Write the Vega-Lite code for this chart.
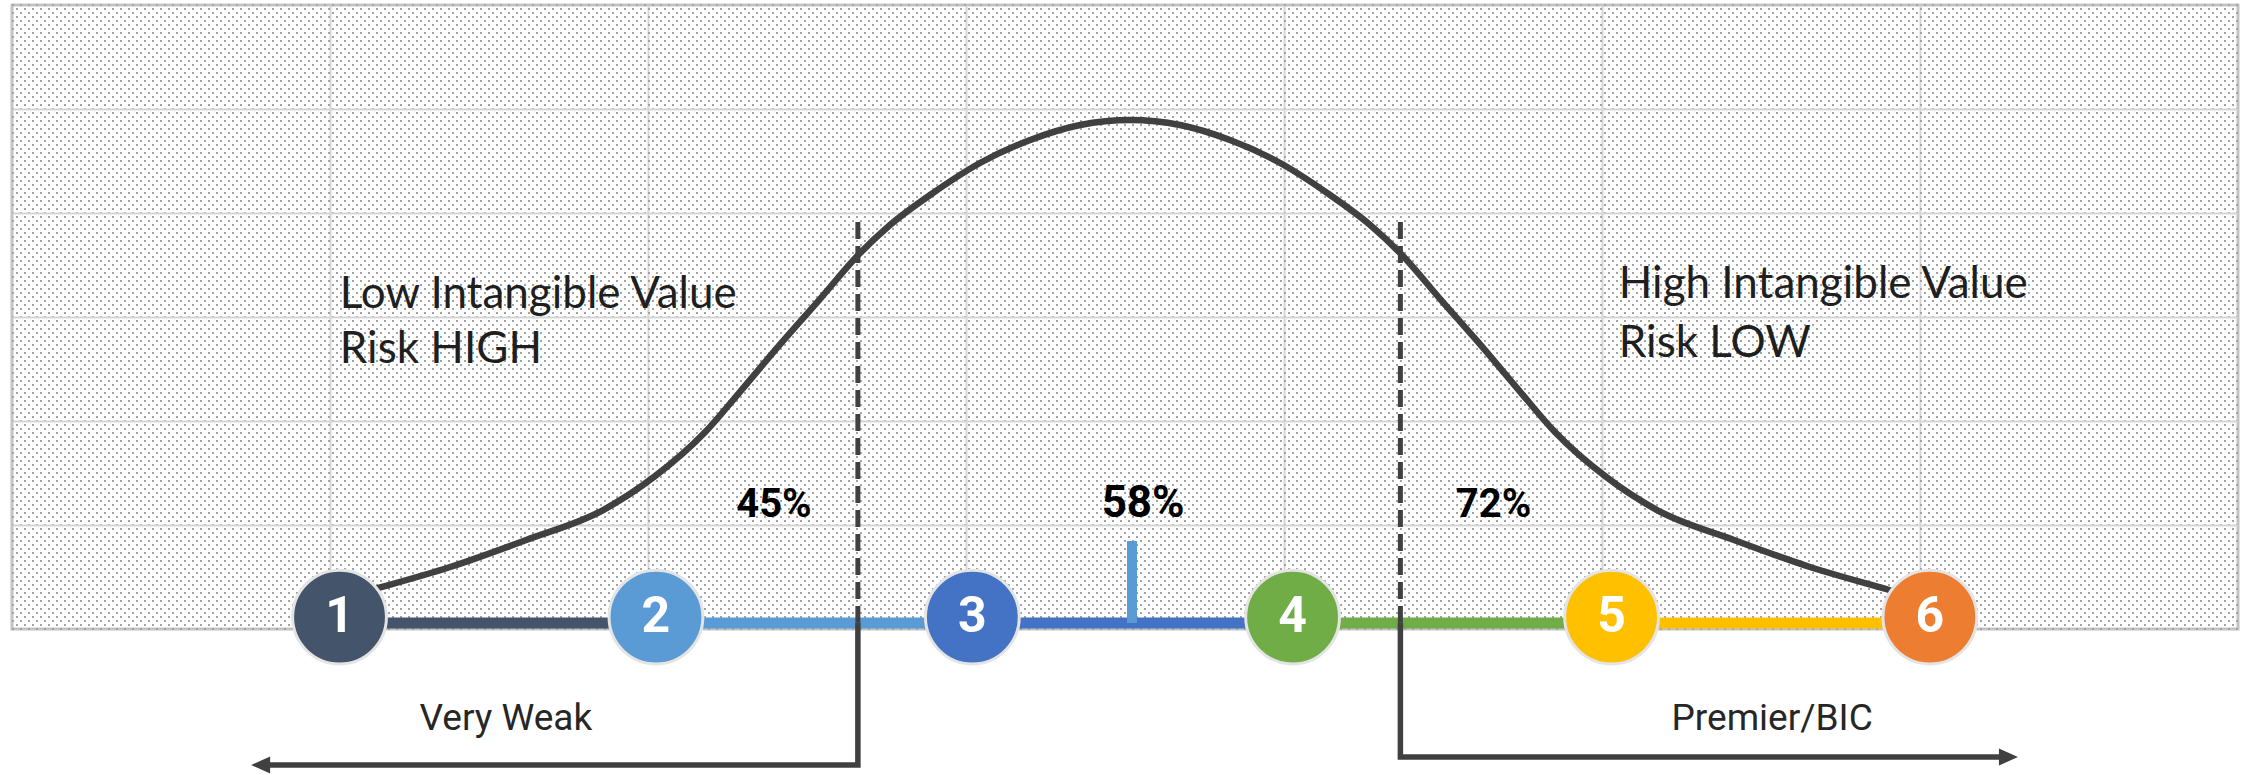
{
  "$schema": "https://vega.github.io/schema/vega-lite/v6.json",
  "width": 2226,
  "height": 624,
  "autosize": {"type": "none"},
  "padding": {"left": 12, "top": 5, "right": 14, "bottom": 146},
  "background": "white",
  "config": {
    "view": {"stroke": "#c3c3c3", "strokeWidth": 3},
    "axis": {"minExtent": 0, "maxExtent": 0}
  },
  "datasets": {
    "dots": [{"d": 0}, {"d": 156}],
    "segs": [
      {"level": 1, "x": 1.03, "x2": 2.03, "y": 0.058},
      {"level": 2, "x": 2.03, "x2": 3.02, "y": 0.058},
      {"level": 3, "x": 3.02, "x2": 4.03, "y": 0.058},
      {"level": 4, "x": 4.03, "x2": 5.03, "y": 0.058},
      {"level": 5, "x": 5.03, "x2": 6.03, "y": 0.058}
    ],
    "marker": [{"x": 3.522, "y": 0.058, "y2": 0.846}],
    "cutoffs": [
      {"x": 2.66, "y": 3.913, "y2": 0.06},
      {"x": 4.366, "y": 3.913, "y2": 0.06}
    ],
    "arrows": [
      {"side": "left", "ord": 1, "x": 2.66, "y": 0.06},
      {"side": "left", "ord": 2, "x": 2.66, "y": -1.308},
      {"side": "left", "ord": 3, "x": 0.8, "y": -1.308},
      {"side": "right", "ord": 1, "x": 4.366, "y": 0.06},
      {"side": "right", "ord": 2, "x": 4.366, "y": -1.231},
      {"side": "right", "ord": 3, "x": 6.26, "y": -1.231}
    ],
    "heads": [
      {"side": "left", "x": 0.752, "y": -1.308},
      {"side": "right", "x": 6.308, "y": -1.231}
    ],
    "curve": [
      {"x": 1.08, "y": 0.333},
      {"x": 1.129, "y": 0.375},
      {"x": 1.378, "y": 0.596},
      {"x": 1.617, "y": 0.856},
      {"x": 1.859, "y": 1.144},
      {"x": 2.019, "y": 1.462},
      {"x": 2.18, "y": 1.894},
      {"x": 2.286, "y": 2.269},
      {"x": 2.422, "y": 2.76},
      {"x": 2.538, "y": 3.163},
      {"x": 2.664, "y": 3.606},
      {"x": 2.761, "y": 3.885},
      {"x": 2.887, "y": 4.173},
      {"x": 3.044, "y": 4.481},
      {"x": 3.202, "y": 4.702},
      {"x": 3.359, "y": 4.846},
      {"x": 3.516, "y": 4.894},
      {"x": 3.673, "y": 4.846},
      {"x": 3.83, "y": 4.702},
      {"x": 3.988, "y": 4.481},
      {"x": 4.145, "y": 4.173},
      {"x": 4.271, "y": 3.885},
      {"x": 4.368, "y": 3.606},
      {"x": 4.494, "y": 3.163},
      {"x": 4.61, "y": 2.76},
      {"x": 4.746, "y": 2.269},
      {"x": 4.852, "y": 1.894},
      {"x": 5.013, "y": 1.462},
      {"x": 5.173, "y": 1.144},
      {"x": 5.415, "y": 0.856},
      {"x": 5.654, "y": 0.596},
      {"x": 5.903, "y": 0.375},
      {"x": 5.95, "y": 0.333}
    ],
    "nodes": [
      {"level": 1, "x": 1.03, "y": 0.115, "label": "1"},
      {"level": 2, "x": 2.025, "y": 0.115, "label": "2"},
      {"level": 3, "x": 3.02, "y": 0.115, "label": "3"},
      {"level": 4, "x": 4.027, "y": 0.115, "label": "4"},
      {"level": 5, "x": 5.03, "y": 0.115, "label": "5"},
      {"level": 6, "x": 6.031, "y": 0.115, "label": "6"}
    ],
    "pcts": [
      {"label": "45%", "x": 2.396, "y": 1.077, "emph": "n"},
      {"label": "58%", "x": 3.557, "y": 1.077, "emph": "y"},
      {"label": "72%", "x": 4.659, "y": 1.077, "emph": "n"}
    ],
    "notes": [
      {"label": "Low Intangible Value", "x": 1.031, "y": 3.087},
      {"label": "Risk HIGH", "x": 1.031, "y": 2.558},
      {"label": "High Intangible Value", "x": 5.053, "y": 3.183},
      {"label": "Risk LOW", "x": 5.053, "y": 2.615}
    ],
    "ends": [
      {"label": "Very Weak", "x": 1.553, "y": -0.971},
      {"label": "Premier/BIC", "x": 5.535, "y": -0.971}
    ]
  },
  "layer": [
    {
      "data": {"name": "dots"},
      "mark": {"type": "point", "opacity": 0},
      "encoding": {
        "y": {
          "field": "d",
          "type": "quantitative",
          "scale": {"domain": [0, 156], "nice": false, "zero": false},
          "axis": {
            "orient": "left",
            "tickCount": 156,
            "grid": true,
            "gridColor": "#a3a3a3",
            "gridWidth": 2,
            "gridDash": [2, 6],
            "gridDashOffset": {"condition": {"test": "datum.value % 2 === 1", "value": 4}, "value": 0},
            "labels": false,
            "ticks": false,
            "domain": false,
            "title": null,
            "translate": 0,
            "zindex": 0
          }
        }
      }
    },
    {
      "layer": [
        {
          "data": {"name": "segs"},
          "mark": {"type": "rule", "strokeWidth": 11, "strokeCap": "butt"},
          "encoding": {
            "x": {
              "field": "x",
              "type": "quantitative",
              "scale": {"domain": [0, 7], "nice": false, "zero": false},
              "axis": {
                "values": [1, 2, 3, 4, 5, 6],
                "grid": true,
                "gridColor": "#d6d6d6",
                "gridWidth": 2,
                "labels": false,
                "ticks": false,
                "domain": false,
                "title": null,
                "zindex": 0
              }
            },
            "x2": {"field": "x2"},
            "y": {
              "field": "y",
              "type": "quantitative",
              "scale": {"domain": [0, 6], "nice": false, "zero": false},
              "axis": {
                "orient": "right",
                "values": [1, 2, 3, 4, 5],
                "grid": true,
                "gridColor": "#d6d6d6",
                "gridWidth": 2,
                "labels": false,
                "ticks": false,
                "domain": false,
                "title": null,
                "zindex": 0
              }
            },
            "color": {
              "field": "level",
              "type": "nominal",
              "scale": {"domain": [1, 2, 3, 4, 5, 6], "range": ["#44546A", "#5B9BD5", "#4472C4", "#70AD47", "#FFC000", "#ED7D31"]},
              "legend": null
            }
          }
        },
        {
          "data": {"name": "marker"},
          "mark": {"type": "rule", "strokeWidth": 10, "color": "#5B9BD5", "strokeCap": "butt"},
          "encoding": {
            "x": {"field": "x", "type": "quantitative"},
            "y": {"field": "y", "type": "quantitative"},
            "y2": {"field": "y2"}
          }
        },
        {
          "data": {"name": "cutoffs"},
          "mark": {"type": "rule", "strokeWidth": 5, "color": "#404040", "strokeDash": [17, 7], "strokeCap": "butt"},
          "encoding": {
            "x": {"field": "x", "type": "quantitative"},
            "y": {"field": "y", "type": "quantitative"},
            "y2": {"field": "y2"}
          }
        },
        {
          "data": {"name": "arrows"},
          "mark": {"type": "line", "strokeWidth": 5.5, "color": "#404040", "strokeJoin": "miter", "strokeCap": "butt"},
          "encoding": {
            "x": {"field": "x", "type": "quantitative"},
            "y": {"field": "y", "type": "quantitative"},
            "detail": {"field": "side"},
            "order": {"field": "ord", "type": "quantitative"}
          }
        },
        {
          "data": {"name": "heads"},
          "mark": {"type": "point", "filled": true, "color": "#404040", "opacity": 1, "size": 1444, "strokeWidth": 0},
          "encoding": {
            "x": {"field": "x", "type": "quantitative"},
            "y": {"field": "y", "type": "quantitative"},
            "shape": {
              "field": "side",
              "type": "nominal",
              "scale": {"domain": ["left", "right"], "range": ["M0,0L1,-0.45L1,0.45Z", "M0,0L-1,-0.45L-1,0.45Z"]},
              "legend": null
            }
          }
        },
        {
          "data": {"name": "curve"},
          "mark": {"type": "line", "strokeWidth": 6.5, "color": "#404040", "interpolate": "monotone"},
          "encoding": {
            "x": {"field": "x", "type": "quantitative"},
            "y": {"field": "y", "type": "quantitative"}
          }
        },
        {
          "data": {"name": "nodes"},
          "mark": {"type": "circle", "size": 8800, "opacity": 1, "stroke": "#e4e4e4", "strokeWidth": 3},
          "encoding": {
            "x": {"field": "x", "type": "quantitative"},
            "y": {"field": "y", "type": "quantitative"},
            "color": {"field": "level", "type": "nominal", "legend": null}
          }
        },
        {
          "data": {"name": "nodes"},
          "mark": {"type": "text", "color": "white", "fontWeight": "bold", "fontSize": 50, "font": "Roboto", "align": "center", "baseline": "alphabetic", "dy": 15},
          "encoding": {
            "x": {"field": "x", "type": "quantitative"},
            "y": {"field": "y", "type": "quantitative"},
            "text": {"field": "label"}
          }
        },
        {
          "data": {"name": "pcts"},
          "mark": {"type": "text", "color": "black", "fontWeight": "bold", "font": "Roboto", "align": "center", "baseline": "alphabetic"},
          "encoding": {
            "x": {"field": "x", "type": "quantitative"},
            "y": {"field": "y", "type": "quantitative"},
            "text": {"field": "label"},
            "size": {"field": "emph", "type": "nominal", "scale": {"domain": ["n", "y"], "range": [40, 44]}, "legend": null}
          }
        },
        {
          "data": {"name": "notes"},
          "mark": {"type": "text", "color": "#1f1f1f", "fontSize": 44, "font": "Lato", "align": "left", "baseline": "alphabetic"},
          "encoding": {
            "x": {"field": "x", "type": "quantitative"},
            "y": {"field": "y", "type": "quantitative"},
            "text": {"field": "label"}
          }
        },
        {
          "data": {"name": "ends"},
          "mark": {"type": "text", "color": "#262626", "fontSize": 37, "font": "Roboto", "align": "center", "baseline": "alphabetic"},
          "encoding": {
            "x": {"field": "x", "type": "quantitative"},
            "y": {"field": "y", "type": "quantitative"},
            "text": {"field": "label"}
          }
        }
      ]
    }
  ],
  "resolve": {"scale": {"y": "independent"}}
}
